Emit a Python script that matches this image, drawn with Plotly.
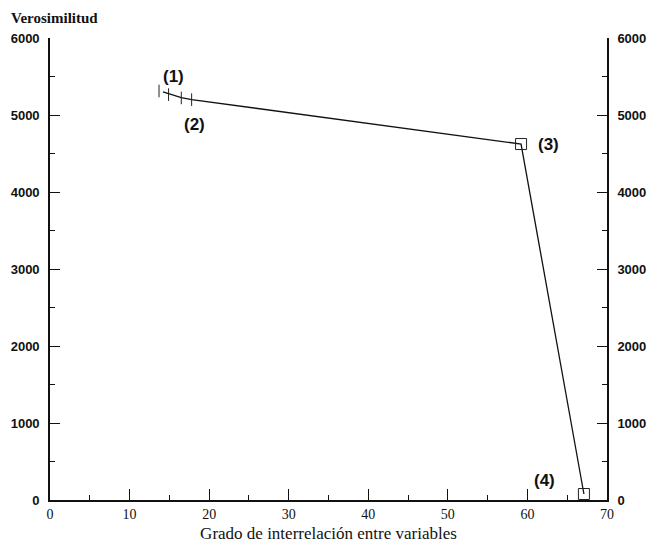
import plotly.graph_objects as go

# Data
line_x = [14.2, 16.5, 17.8, 59.2, 67.1]
line_y = [5300, 5225, 5200, 4623, 78]

tick_x = [13.7, 14.9, 16.5, 17.8]
tick_y = [5312, 5265, 5222, 5200]

box_x = [59.2, 67.1]
box_y = [4623, 78]

label_text = ["(1)", "(2)", "(3)", "(4)"]
label_x = [15.5, 18.1, 62.6, 62.1]
label_y = [5494, 4883, 4623, 247]

x_tickvals = [0, 10, 20, 30, 40, 50, 60, 70]
y_tickvals = [0, 1000, 2000, 3000, 4000, 5000, 6000]

fig = go.Figure()
fig.add_trace(go.Scatter(x=line_x, y=line_y, mode="lines",
                         line=dict(color="#111", width=1.3), showlegend=False))
fig.add_trace(go.Scatter(x=tick_x, y=tick_y, mode="markers",
                         marker=dict(symbol="line-ns", size=9, line=dict(color="#222", width=1)),
                         showlegend=False))
fig.add_trace(go.Scatter(x=box_x, y=box_y, mode="markers",
                         marker=dict(symbol="square-open", size=11, color="#222", line=dict(width=1)),
                         showlegend=False))
fig.add_trace(go.Scatter(x=[0], y=[0], yaxis="y2", mode="markers",
                         marker=dict(opacity=0), showlegend=False, hoverinfo="skip"))

for t, x, y in zip(label_text, label_x, label_y):
    fig.add_annotation(x=x, y=y, text=t, showarrow=False,
                       font=dict(family="Liberation Sans", size=17, color="#111", weight="bold"),
                       xanchor="center", yanchor="middle")

fig.add_annotation(xref="paper", yref="paper", x=-0.074, y=1.043, text="Verosimilitud",
                   showarrow=False, xanchor="left", yanchor="middle",
                   font=dict(family="Liberation Serif", size=15, color="#111", weight="bold"))

yax_common = dict(range=[0, 6000], tickvals=y_tickvals,
                  ticks="inside", ticklen=10, tickwidth=1.3, tickcolor="#111",
                  showline=True, linecolor="#111", linewidth=1.6,
                  showgrid=False, zeroline=False, automargin=False,
                  ticklabelstandoff=6,
                  tickfont=dict(family="Liberation Sans", size=13, color="#111", weight="bold"),
                  minor=dict(ticks="inside", ticklen=5, tickwidth=1.2, tickcolor="#111", dtick=500,
                             showgrid=False))

fig.update_layout(
    width=652, height=543,
    margin=dict(l=50, r=45, t=38, b=43),
    paper_bgcolor="white", plot_bgcolor="white",
    xaxis=dict(range=[0, 70], tickvals=x_tickvals,
               ticks="inside", ticklen=11, tickwidth=1.3, tickcolor="#111",
               showline=True, linecolor="#111", linewidth=1.6,
               showgrid=False, zeroline=False, automargin=False,
               tickfont=dict(family="Liberation Serif", size=14, color="#111"),
               minor=dict(ticks="inside", ticklen=5, tickwidth=1.2, tickcolor="#111", dtick=5,
                          showgrid=False),
               title=dict(text="Grado de interrelación entre variables",
                          font=dict(family="Liberation Serif", size=17, color="#111"))),
    yaxis=dict(side="left", **yax_common),
    yaxis2=dict(side="right", overlaying="y", **yax_common),
)

fig.write_html("out.html", config={"displayModeBar": False},
               post_script="document.body.style.margin='0';document.body.style.padding='0';")
